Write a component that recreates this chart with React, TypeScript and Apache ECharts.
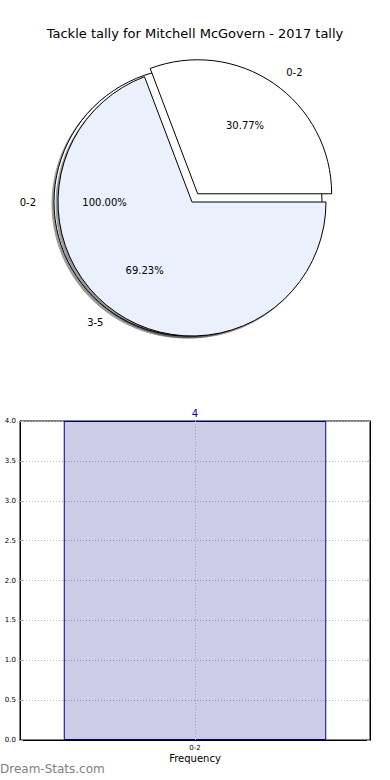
import React, { useEffect, useRef } from "react";
import * as echarts from "echarts";

const titleText = "Tackle tally for Mitchell McGovern - 2017 tally";
const pieLabels = ["0-2", "3-5"];
const pieValues = [4, 9];
const totalLabels = ["0-2"];
const totalValues = [4];
const barCategories = ["0-2"];
const barValues = [4];
const barAxisName = "Frequency";
const watermark = "Dream-Stats.com";

const pieColors = ["#ffffff", "#eaf0fc"];
const FONT = "DejaVu Sans";

export default function App() {
  const ref = useRef<HTMLDivElement>(null);
  useEffect(() => {
    if (!ref.current) return;
    const chart = echarts.init(ref.current, undefined, { renderer: "svg" });
    const cx = 192;
    const cy = 202;
    const R = 134;
    const shadow = {
      shadowColor: "rgba(0,0,0,0.4)",
      shadowOffsetX: -2,
      shadowOffsetY: 2,
      shadowBlur: 1,
    };
    const outsideLabel = {
      show: true,
      position: "outside",
      formatter: "{b}",
      fontSize: 10,
      color: "#000",
      fontFamily: FONT,
    };
    const pctLabel = {
      show: true,
      position: "inside",
      formatter: (p: any) => p.percent.toFixed(2) + "%",
      fontSize: 10,
      color: "#000",
      fontFamily: FONT,
    };
    const mkItem = (name: string, value: number, color: string, selected: boolean, withShadow: boolean) => {
      const st = {
        color,
        borderColor: "#000",
        borderWidth: 1,
        ...(withShadow ? shadow : {}),
      };
      return { name, value, selected, itemStyle: st, select: { itemStyle: st } };
    };
    const clearItem = (name: string, value: number, selected: boolean) => {
      const st = { color: "rgba(0,0,0,0)", borderWidth: 0 };
      return { name, value, selected, itemStyle: st, select: { itemStyle: st } };
    };
    const pieBase = {
      type: "pie",
      startAngle: 0,
      clockwise: false,
      avoidLabelOverlap: false,
      selectedMode: "multiple",
      silent: true,
      emphasis: { disabled: true },
      labelLine: { show: false, length: 13, length2: 0 },
    };

    chart.setOption({
      animation: false,
      title: {
        text: titleText,
        left: "center",
        top: 22,
        textStyle: { fontSize: 13, fontWeight: "normal", color: "#000", fontFamily: FONT },
      },
      graphic: [
        {
          type: "text",
          left: 0,
          top: 763,
          style: { text: watermark, fontSize: 12, fill: "#808080", fontFamily: FONT },
        },
      ],
      grid: { left: 20, right: 20, top: 421, bottom: 40, show: true, borderColor: "#000", borderWidth: 1 },
      xAxis: {
        type: "category",
        data: barCategories,
        axisLine: { lineStyle: { color: "#000" } },
        axisTick: { show: false },
        axisLabel: { fontSize: 7, color: "#000", margin: 4, fontFamily: FONT },
        name: barAxisName,
        nameLocation: "middle",
        nameGap: 13,
        nameTextStyle: { fontSize: 10, color: "#000", fontFamily: FONT },
      },
      yAxis: [
        {
          type: "value",
          min: 0,
          max: 4,
          interval: 0.5,
          axisLabel: { formatter: (v: number) => v.toFixed(1), fontSize: 7, color: "#000", margin: 4, fontFamily: FONT },
          axisLine: { show: true, lineStyle: { color: "#000" } },
          axisTick: { show: true, inside: true, length: 3, lineStyle: { color: "#aaa" } },
          splitLine: { show: true, lineStyle: { type: [1, 2], color: "#bbb" } },
        },
        {
          type: "value",
          position: "right",
          min: 0,
          max: 4,
          interval: 0.5,
          axisLabel: { show: false },
          axisLine: { show: true, lineStyle: { color: "#000" } },
          axisTick: { show: true, inside: true, length: 3, lineStyle: { color: "#aaa" } },
          splitLine: { show: false },
        },
      ],
      series: [
        {
          ...pieBase,
          z: 1,
          center: [cx, cy],
          radius: R,
          selectedOffset: 4,
          label: outsideLabel,
          data: totalLabels.map((n, i) => mkItem(n, totalValues[i], "#ffffff", true, true)),
        },
        {
          ...pieBase,
          z: 2,
          center: [cx, cy],
          radius: R,
          selectedOffset: 10,
          label: outsideLabel,
          data: pieLabels.map((n, i) => mkItem(n, pieValues[i], pieColors[i], i === 0, i === 1)),
        },
        {
          ...pieBase,
          z: 3,
          center: [cx, cy],
          radius: R * 1.2,
          selectedOffset: 4,
          label: pctLabel,
          data: totalLabels.map((n, i) => clearItem(n, totalValues[i], true)),
        },
        {
          ...pieBase,
          z: 3,
          center: [cx, cy],
          radius: R * 1.2,
          selectedOffset: 10,
          label: pctLabel,
          data: pieLabels.map((n, i) => clearItem(n, pieValues[i], i === 0)),
        },
        {
          type: "bar",
          data: barValues,
          barWidth: "75%",
          silent: true,
          itemStyle: { color: "rgba(0,0,128,0.2)", borderColor: "#000080", borderWidth: 1 },
          label: { show: true, position: "top", distance: 3, color: "#0000aa", fontSize: 10, fontFamily: FONT },
          markLine: {
            silent: true,
            symbol: "none",
            label: { show: false },
            lineStyle: { type: [1, 2], color: "#aaa", width: 1 },
            data: [{ xAxis: barCategories[0] }],
          },
        },
      ],
    });
    return () => chart.dispose();
  }, []);
  return <div ref={ref} style={{ position: "absolute", left: 0, top: 0, width: 390, height: 780 }} />;
}
